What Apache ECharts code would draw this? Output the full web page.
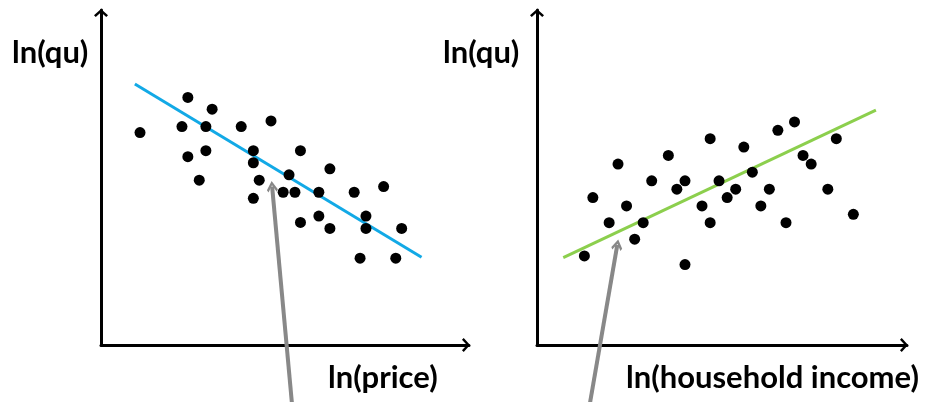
<!DOCTYPE html>
<html>
<head>
<meta charset="utf-8">
<script src="https://cdn.jsdelivr.net/npm/echarts@6/dist/echarts.min.js"></script>
<style>html,body{margin:0;padding:0;background:#fff}#c{width:933px;height:402px}</style>
</head>
<body>
<div id="c"></div>
<script>
// Left panel: ln(price) vs ln(qu)
var priceX = [1.06,2.36,3.02,2.20,2.85,3.81,4.62,2.36,2.85,2.67,4.14,4.14,4.30,4.14,5.42,5.11,4.95,5.27,6.22,5.92,6.88,7.68,5.42,5.92,6.22,7.20,7.20,8.17,7.04,8.01];
var priceQu = [6.34,7.39,7.04,6.52,6.52,6.52,6.69,5.62,5.80,4.92,5.80,5.44,4.92,4.38,5.80,5.08,4.56,4.56,5.26,4.56,4.56,4.73,3.66,3.85,3.48,3.85,3.48,3.48,2.59,2.59];
var priceFitX = [0.92, 8.71];
var priceFitY = [7.79, 2.62];
var priceArrowX = [5.21, 4.65];
var priceArrowY = [-2.0, 4.73];

// Right panel: ln(household income) vs ln(qu)
var incomeX = [1.28,1.51,1.95,2.19,2.42,2.64,2.87,3.10,3.55,3.78,4.00,4.00,4.46,4.68,4.68,4.92,5.14,5.37,5.59,5.82,6.05,6.28,6.51,6.73,6.96,7.19,7.41,7.86,8.09,8.55];
var incomeQu = [2.66,4.40,3.65,5.40,4.15,3.16,3.65,4.90,5.66,4.65,4.90,2.40,4.15,6.16,3.65,4.90,4.40,4.65,5.91,5.16,4.15,4.65,6.41,3.65,6.66,5.66,5.40,4.65,6.16,3.90];
var incomeFitX = [0.71, 9.16];
var incomeFitY = [2.61, 7.01];
var incomeArrowX = [1.39, 2.17];
var incomeArrowY = [-2.0, 2.99];

var labels = { yName: 'ln(qu)', xLeft: 'ln(price)', xRight: 'ln(household income)' };

function zip(a, b) { return a.map(function (v, i) { return [v, b[i]]; }); }

var chevron = 'path://M0,0 L10,9 L7.5,11.5 L0,4.5 L-7.5,11.5 L-10,9 Z';
var font = 'Lato';

function axis(gi) {
  return {
    type: 'value', gridIndex: gi, min: 0, max: 10,
    axisLine: { show: true, onZero: false, lineStyle: { color: '#000', width: 3 },
      symbol: ['none', chevron], symbolSize: [14, 10], symbolOffset: [0, -3] },
    axisTick: { show: false }, axisLabel: { show: false }, splitLine: { show: false }
  };
}

var chart = echarts.init(document.getElementById('c'), null, { renderer: 'canvas' });
var titleStyle = { fontFamily: font, fontWeight: 'bold', fontSize: 31, color: '#000' };
chart.setOption({
  animation: false,
  title: [
    { text: labels.yName, left: 12, top: 37, padding: 0, textStyle: titleStyle },
    { text: labels.yName, left: 443, top: 37, padding: 0, textStyle: titleStyle },
    { text: labels.xLeft, left: 328, top: 362, padding: 0, textStyle: titleStyle },
    { text: labels.xRight, left: 626, top: 362, padding: 0, textStyle: titleStyle }
  ],
  grid: [
    { left: 101, top: 10, width: 368, height: 335 },
    { left: 537, top: 10, width: 370, height: 335 }
  ],
  xAxis: [axis(0), axis(1)],
  yAxis: [axis(0), axis(1)],
  series: [
    { type: 'line', xAxisIndex: 0, yAxisIndex: 0, data: zip(priceFitX, priceFitY), symbol: 'none',
      lineStyle: { color: '#12a9e6', width: 3 }, z: 2 },
    { type: 'scatter', xAxisIndex: 0, yAxisIndex: 0, data: zip(priceX, priceQu), symbolSize: 11,
      itemStyle: { color: '#000', opacity: 1 }, z: 3 },
    { type: 'lines', coordinateSystem: 'cartesian2d', xAxisIndex: 0, yAxisIndex: 0, clip: false,
      data: [{ coords: zip(priceArrowX, priceArrowY) }], symbol: ['none', chevron], symbolSize: [16, 11],
      lineStyle: { color: '#888', width: 4, opacity: 1 }, z: 4 },
    { type: 'line', xAxisIndex: 1, yAxisIndex: 1, data: zip(incomeFitX, incomeFitY), symbol: 'none',
      lineStyle: { color: '#8ccf4d', width: 3 }, z: 2 },
    { type: 'scatter', xAxisIndex: 1, yAxisIndex: 1, data: zip(incomeX, incomeQu), symbolSize: 11,
      itemStyle: { color: '#000', opacity: 1 }, z: 3 },
    { type: 'lines', coordinateSystem: 'cartesian2d', xAxisIndex: 1, yAxisIndex: 1, clip: false,
      data: [{ coords: zip(incomeArrowX, incomeArrowY) }], symbol: ['none', chevron], symbolSize: [16, 11],
      lineStyle: { color: '#888', width: 4, opacity: 1 }, z: 4 }
  ]
});
</script>
</body>
</html>
